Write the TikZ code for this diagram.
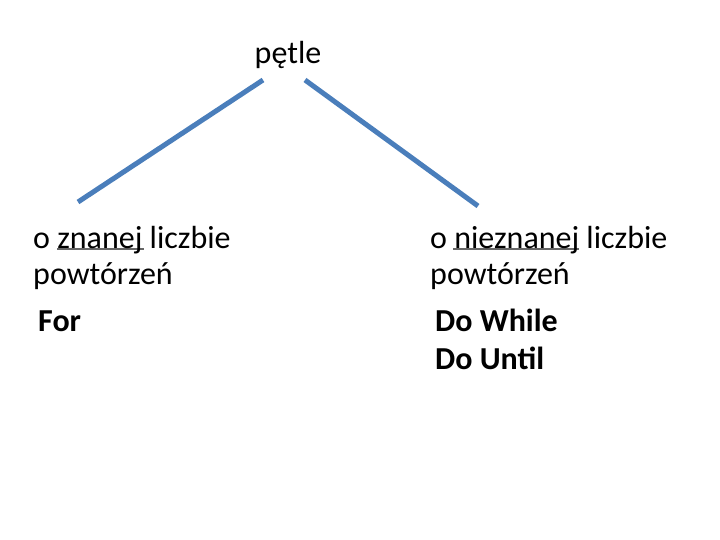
\documentclass[tikz,border=0pt]{standalone}
\usepackage{fontspec}
\setmainfont{Carlito}
\begin{document}
\begin{tikzpicture}[x=1pt,y=-1pt,
  conn/.style={line width=5pt,draw={rgb,255:red,74;green,126;blue,187}},
  txt/.style={anchor=base west,inner sep=0pt,font=\fontsize{32}{36}\selectfont},
  btxt/.style={txt,font=\fontsize{32}{36}\selectfont\bfseries},
  ul/.style={line width=2.5pt,draw=black!60}]
\useasboundingbox (0,0) rectangle (720,540);
\node[anchor=base,inner sep=0pt,font=\fontsize{32}{36}\selectfont] (top) at (288,64) {pętle};
\coordinate (a1) at (263,80); \coordinate (b1) at (78,202);
\coordinate (a2) at (305,80); \coordinate (b2) at (478,206);
\draw[conn] (a1) -- (b1);
\draw[conn] (a2) -- (b2);
\draw[ul] (57,249) -- (144,249);
\draw[ul] (453,249) -- (579,249);
\node[txt] (l1) at (33,248) {o znanej liczbie};
\node[txt] (l2) at (33,284) {powtórzeń};
\node[btxt] (l3) at (38,331) {For};
\node[txt] (r1) at (430,248) {o nieznanej liczbie};
\node[txt] (r2) at (430,284) {powtórzeń};
\node[btxt] (r3) at (435,331) {Do While};
\node[btxt] (r4) at (435,369) {Do Until};
\end{tikzpicture}
\end{document}
